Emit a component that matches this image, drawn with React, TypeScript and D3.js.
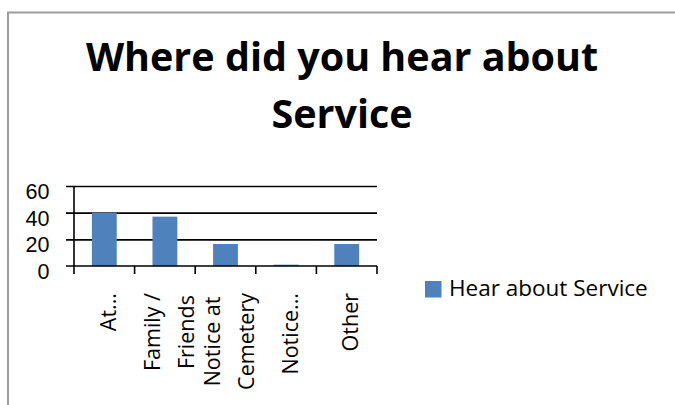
import React, { useEffect, useRef } from 'react';
import * as d3 from 'd3';

const categories = ['At...', 'Family / Friends', 'Notice at Cemetery', 'Notice...', 'Other'];
const categoryLines = [['At...'], ['Family /', 'Friends'], ['Notice at', 'Cemetery'], ['Notice...'], ['Other']];
const values = [40, 37, 16.5, 1, 16.5];
const yTicks = [0, 20, 40, 60];
const seriesName = 'Hear about Service';
const titleLines = ['Where did you hear about', 'Service'];

const FONT = '"Open Sans", "Noto Sans", sans-serif';
const TICK_FONT = '"Liberation Sans", Arial, sans-serif';

const App = () => {
  const svgRef = useRef(null);

  useEffect(() => {
    d3.select(svgRef.current).selectAll('*').remove();

    const width = 675;
    const height = 405;
    const plot = { left: 74, right: 377, top: 186, bottom: 266 };

    const svg = d3.select(svgRef.current).attr('width', width).attr('height', height);

    svg.append('rect').attr('width', width).attr('height', height).attr('fill', '#fff');

    // chart frame, cut off by the picture at right and bottom
    svg
      .append('rect')
      .attr('x', 8)
      .attr('y', 12.5)
      .attr('width', 720)
      .attr('height', 460)
      .attr('fill', 'none')
      .attr('stroke', '#9c9c9c')
      .attr('stroke-width', 2);

    // title
    svg
      .append('g')
      .selectAll('text')
      .data(titleLines)
      .enter()
      .append('text')
      .attr('x', 342)
      .attr('y', (d, i) => 71 + i * 57)
      .attr('text-anchor', 'middle')
      .attr('font-family', FONT)
      .attr('font-weight', 'bold')
      .attr('font-size', 39.5)
      .attr('fill', '#000')
      .text((d) => d);

    const xScale = d3.scaleBand().domain(categories).range([plot.left, plot.right]).paddingInner(0.59).paddingOuter(0.295);
    const xBands = d3.scaleBand().domain(categories).range([plot.left, plot.right]);
    const yScale = d3.scaleLinear().domain([0, 60]).range([plot.bottom, plot.top]);

    // grid lines
    svg
      .append('g')
      .attr('transform', `translate(${plot.left},0)`)
      .call(d3.axisLeft(yScale).tickValues(yTicks.slice(1)).tickSize(-(plot.right - plot.left)).tickSizeOuter(0).tickFormat(() => ''))
      .call((g) => g.select('.domain').remove())
      .call((g) => g.selectAll('line').attr('stroke', '#000').attr('stroke-width', 1.6).attr('x1', -8));

    // bars
    svg
      .selectAll('.bar')
      .data(values)
      .enter()
      .append('rect')
      .attr('class', 'bar')
      .attr('x', (d, i) => xScale(categories[i]))
      .attr('y', (d) => yScale(d))
      .attr('width', xScale.bandwidth())
      .attr('height', (d) => yScale(0) - yScale(d))
      .attr('fill', '#4F81BD');

    // y axis
    svg
      .append('line')
      .attr('x1', plot.left)
      .attr('x2', plot.left)
      .attr('y1', plot.top)
      .attr('y2', plot.bottom)
      .attr('stroke', '#000')
      .attr('stroke-width', 1.6);

    svg
      .append('g')
      .selectAll('text')
      .data(yTicks)
      .enter()
      .append('text')
      .attr('x', 49.5)
      .attr('y', (d) => yScale(d) + 13)
      .attr('text-anchor', 'end')
      .attr('font-family', TICK_FONT)
      .attr('font-size', 21.5)
      .attr('fill', '#000')
      .text((d) => d);

    // x axis
    svg
      .append('line')
      .attr('x1', plot.left - 8)
      .attr('x2', plot.right)
      .attr('y1', plot.bottom)
      .attr('y2', plot.bottom)
      .attr('stroke', '#000')
      .attr('stroke-width', 1.6);

    const boundaries = categories.map((c) => xBands(c)).concat([plot.right]);
    svg
      .append('g')
      .selectAll('line')
      .data(boundaries)
      .enter()
      .append('line')
      .attr('x1', (d) => d)
      .attr('x2', (d) => d)
      .attr('y1', plot.bottom)
      .attr('y2', plot.bottom + 8)
      .attr('stroke', '#000')
      .attr('stroke-width', 1.6);

    // category labels, rotated, wrapped lines centred
    const labelTop = 293;
    const lineGap = 34;
    categoryLines.forEach((lines, i) => {
      const cx = xBands(categories[i]) + xBands.bandwidth() / 2 + 4;
      const g = svg.append('g').attr('transform', `translate(${cx},${labelTop}) rotate(-90)`);
      const texts = g
        .selectAll('text')
        .data(lines)
        .enter()
        .append('text')
        .attr('y', (d, j) => (j - (lines.length - 1) / 2) * lineGap)
        .attr('dy', '0.36em')
        .attr('text-anchor', 'middle')
        .attr('font-family', FONT)
        .attr('font-size', 21.5)
        .attr('fill', '#000')
        .text((d) => d);
      let maxLen = 0;
      texts.each(function () {
        maxLen = Math.max(maxLen, (this as SVGTextElement).getComputedTextLength());
      });
      texts.attr('x', -maxLen / 2);
    });

    // legend
    const legend = svg.append('g').attr('transform', 'translate(425,281)');
    legend.append('rect').attr('width', 16.5).attr('height', 16.5).attr('fill', '#4F81BD');
    legend
      .append('text')
      .attr('x', 24)
      .attr('y', 15)
      .attr('font-family', FONT)
      .attr('font-size', 22.5)
      .attr('fill', '#000')
      .text(seriesName);
  }, []);

  return (
    <div style={{ position: 'fixed', left: 0, top: 0, width: 675, height: 405, overflow: 'hidden' }}>
      <svg ref={svgRef} style={{ display: 'block' }}></svg>
    </div>
  );
};

export default App;
